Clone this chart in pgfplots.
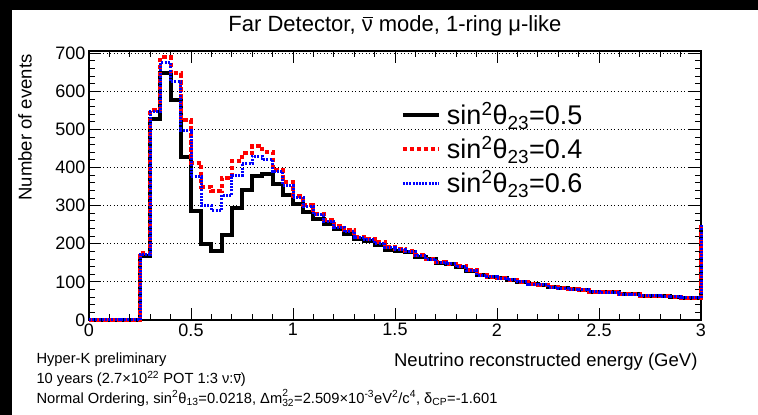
\documentclass[border=0pt]{standalone}
\usepackage{fontspec}
\setmainfont{Liberation Sans}
\usepackage{pgfplots}
\usepackage{pgfplotstable}
\pgfplotsset{compat=1.18}
\newcommand{\nub}{\leavevmode\rlap{\raisebox{0.62em}{\kern0.05em\rule{0.45em}{0.05em}}}ν}
\pgfplotstableread{
x    blk  red  blu
0.00 0    0    0
0.05 0    0    0
0.10 0    0    0
0.15 0    0    0
0.20 0    0    0
0.25 168  176  172
0.30 528  551  547
0.35 647  690  675
0.40 577  647  625
0.45 429  525  497
0.50 287  413  376
0.55 199  350  300
0.60 180  339  288
0.65 223  373  328
0.70 293  417  380
0.75 341  437  411
0.80 378  457  430
0.85 383  442  420
0.90 357  394  389
0.95 328  363  354
1.00 304  326  322
1.05 284  302  298
1.10 264  279  276
1.15 252  262  259
1.20 238  247  244
1.25 226  236  232
1.30 213  219  217
1.35 208  212  211
1.40 197  204  202
1.45 184  192  190
1.50 182  186  185
1.55 178  180  179
1.60 166  170  169
1.65 159  161  160
1.70 150  153  152
1.75 146  148  147
1.80 138  141  140
1.85 128  131  130
1.90 117  119  118
1.95 112  114  113
2.00 109  110  110
2.05 105  106  105
2.10 100  100  100
2.15 94   95   94
2.20 93   93   93
2.25 86   87   86
2.30 83   83   83
2.35 81   81   81
2.40 79   79   79
2.45 74   74   74
2.50 73   73   73
2.55 73   73   73
2.60 67   67   67
2.65 67   67   67
2.70 63   63   63
2.75 63   63   63
2.80 62   62   62
2.85 61   61   61
2.90 58   58   58
2.95 58   58   58
3.00 250  250  250
}\histdata
\begin{document}
\begin{tikzpicture}[x=1pt,y=1pt]
\fill[black] (0,0) rectangle (758,415);
\fill[white] (12,0) rectangle (758,405);
\useasboundingbox (0,0) rectangle (758,415);
\begin{axis}[
  at={(89pt,95pt)}, anchor=south west,
  scale only axis, width=612pt, height=269pt,
  xmin=0, xmax=3, ymin=0, ymax=706,
  clip=false,
  axis line style={line width=1.6pt},
  xtick={0,0.5,1,1.5,2,2.5,3},
  ytick={0,100,200,300,400,500,600,700},
  minor x tick num=4, minor y tick num=4,
  tick align=inside,
  major tick length=12pt, minor tick length=6pt,
  every tick/.style={black, line width=1pt},
  ymajorgrids,
  major grid style={black, line width=0.9pt, dash pattern=on 1pt off 2.5pt},
  /pgf/number format/assume math mode=true,
  ticklabel style={font=\fontsize{18}{18}\selectfont},
  legend style={draw=none, fill=none, inner sep=0pt, outer sep=0pt,
    at={(0.5098,0.815)}, anchor=north west,
    font=\fontsize{27}{27}\selectfont, row sep=5.5pt,
    nodes={inner sep=0pt, text height=24pt, text depth=4.5pt},
    /tikz/every odd column/.append style={column sep=6pt}},
  legend cell align=left,
  legend image code/.code={\draw[#1] (0pt,0pt) -- (36pt,0pt);},
]
\addplot[const plot, black, line width=4pt] table[x=x, y=blk] {\histdata};
\addlegendentry{sin\textsuperscript{2}θ\textsubscript{23}=0.5}
\addplot[const plot, red, line width=4pt, dash pattern=on 4.5pt off 2.5pt] table[x=x, y=red] {\histdata};
\addlegendentry{sin\textsuperscript{2}θ\textsubscript{23}=0.4}
\addplot[const plot, blue, line width=3pt, dash pattern=on 2pt off 1.2pt] table[x=x, y=blu] {\histdata};
\addlegendentry{sin\textsuperscript{2}θ\textsubscript{23}=0.6}
\end{axis}
\node[font=\fontsize{22}{22}\selectfont] at (395,389) {Far Detector, \nub{} mode, 1-ring μ-like};
\node[rotate=90, anchor=east, font=\fontsize{18.5}{18.5}\selectfont] at (25,364) {Number of events};
\node[anchor=east, font=\fontsize{18.5}{18.5}\selectfont] at (701,53) {Neutrino reconstructed energy (GeV)};
\node[anchor=west, font=\fontsize{14.7}{14.7}\selectfont] at (33,55) {Hyper-K preliminary};
\node[anchor=west, font=\fontsize{14.7}{14.7}\selectfont] at (33,36) {10 years (2.7×10\textsuperscript{22} POT 1:3 ν:\nub)};
\node[anchor=west, font=\fontsize{14.7}{14.7}\selectfont] at (33,17) {Normal Ordering, sin\textsuperscript{2}θ\textsubscript{13}=0.0218, Δm\rlap{\raisebox{0.1em}{\textsuperscript{2}}}\raisebox{-0.1em}{\textsubscript{32}}=2.509×10\textsuperscript{-3}eV\textsuperscript{2}/c\textsuperscript{4}, δ\textsubscript{CP}=-1.601};
\end{tikzpicture}
\end{document}
